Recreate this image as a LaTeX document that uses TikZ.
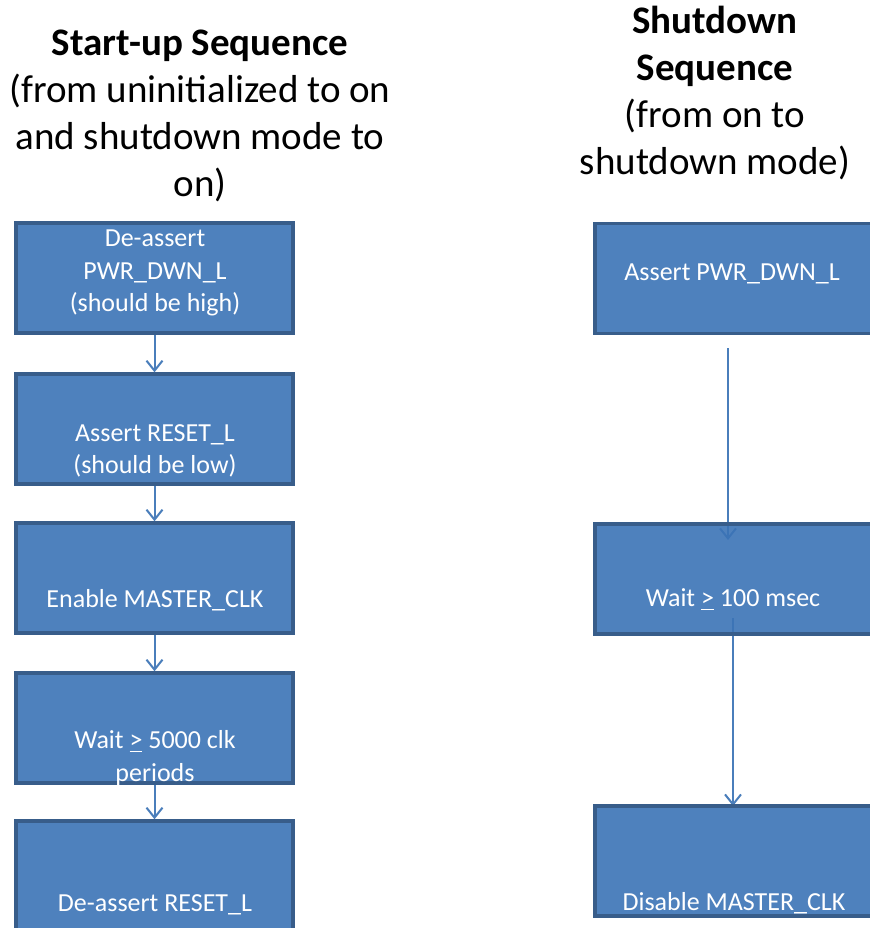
\documentclass[tikz,border=0pt]{standalone}
\usepackage{fontspec}
\setmainfont{Carlito}
\usetikzlibrary{arrows.meta}
\definecolor{boxfill}{HTML}{3B73B6}
\definecolor{boxline}{HTML}{385D8A}
\definecolor{flowline}{HTML}{4A7EBB}
\begin{document}
\begin{tikzpicture}[x=0.5pt,y=-0.5pt,
    stepbox/.style={draw=boxline,line width=1.75pt,fill=boxfill,fill opacity=0.9,
      minimum width=138.5pt,minimum height=55pt,inner sep=0pt},
    boxtext/.style={text=white,font=\fontsize{13}{16.25}\selectfont,align=center},
    title/.style={font=\fontsize{19.5}{23.5}\selectfont,align=center},
    flow/.style={draw=flowline,line width=1pt,-{Straight Barb[length=5pt,width=8pt]}}]
                \useasboundingbox (0,0) rectangle (870,928);
                %% titles
                \node[title] (upTitle) at (200,116) {\textbf{Start-up Sequence}\\(from uninitialized to on\\and shutdown mode to\\on)};
                \node[title] (downTitle) at (715,93) {\textbf{Shutdown}\\\textbf{Sequence}\\(from on to\\shutdown mode)};
                %% connectors, behind the boxes
                \draw[flow] (728,348) -- (728,540);
                \draw[flow] (733,618) -- (733,806);
                %% start-up boxes
                \node[stepbox] (up1) at (154.5,278) {};
                \node[stepbox] (up2) at (154.5,429) {};
                \node[stepbox] (up3) at (154.5,578) {};
                \node[stepbox] (up4) at (154.5,728) {};
                \node[stepbox] (up5) at (154.5,876) {};
                %% shutdown boxes
                \node[stepbox] (down1) at (733.5,278.5) {};
                \node[stepbox] (down2) at (733.5,579) {};
                \node[stepbox] (down3) at (733.5,861) {};
                %% start-up arrows
                \foreach \a/\b in {up1/up2,up2/up3,up3/up4,up4/up5}
                    \draw[flow] (\a.south) -- (\b.north);
                %% texts
                \node[boxtext] (upText1) at (155,273) {De-assert\\PWR\_DWN\_L\\(should be high)};
                \node[boxtext] (upText2) at (155,451) {Assert RESET\_L\\(should be low)};
                \node[boxtext] (upText3) at (155,600) {Enable MASTER\_CLK};
                \node[boxtext] (upText4) at (155,758) {Wait \underline{>} 5000 clk\\periods};
                \node[boxtext] (upText5) at (155,905) {De-assert RESET\_L};
                \node[boxtext] (downText1) at (732,274) {Assert PWR\_DWN\_L};
                \node[boxtext] (downText2) at (733,600) {Wait \underline{>} 100 msec};
                \node[boxtext] (downText3) at (734,903) {Disable MASTER\_CLK};
\end{tikzpicture}
\end{document}
